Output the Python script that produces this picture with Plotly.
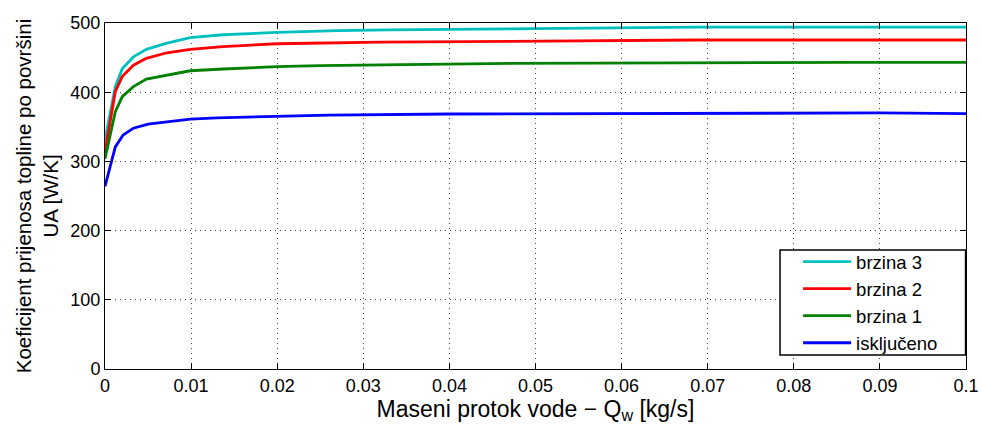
import plotly.graph_objects as go

# Data
x_b3 = [0, 0.0012, 0.002, 0.0033, 0.0048, 0.0072, 0.0099, 0.0137, 0.02, 0.027, 0.033, 0.045, 0.0687, 0.1]
y_b3 = [331, 408, 434, 451, 462, 471, 479, 483, 486.5, 489, 490, 491, 494, 494]

x_b2 = [0, 0.0012, 0.002, 0.0033, 0.0048, 0.0072, 0.0099, 0.0137, 0.02, 0.027, 0.032, 0.047, 0.0687, 0.1]
y_b2 = [314, 401, 422.5, 439, 449, 457, 462, 466, 470, 471.5, 472.5, 473.5, 475.4, 475.4]

x_b1 = [0, 0.0012, 0.002, 0.0033, 0.0048, 0.0072, 0.0099, 0.0137, 0.02, 0.025, 0.034, 0.047, 0.0865, 0.1]
y_b1 = [304, 372, 393.6, 408, 419, 425, 431, 433.5, 437, 438.5, 440, 441.6, 443, 443]

x_off = [0, 0.0012, 0.0021, 0.0033, 0.005, 0.0099, 0.013, 0.02, 0.026, 0.04, 0.0865, 0.09, 0.1]
y_off = [264, 321, 338, 348, 354, 361, 363, 365.6, 367, 368.5, 370.5, 370, 369]

series = [
    ("brzina 3", x_b3, y_b3, "#00BFBF"),
    ("brzina 2", x_b2, y_b2, "#FF0000"),
    ("brzina 1", x_b1, y_b1, "#008000"),
    ("isključeno", x_off, y_off, "#0000FF"),
]

x_ticks = [0, 0.01, 0.02, 0.03, 0.04, 0.05, 0.06, 0.07, 0.08, 0.09, 0.1]
x_labels = ["0", "0.01", "0.02", "0.03", "0.04", "0.05", "0.06", "0.07", "0.08", "0.09", "0.1"]
y_ticks = [0, 100, 200, 300, 400, 500]

fig = go.Figure()
for name, xs, ys, col in series:
    fig.add_trace(go.Scatter(x=xs, y=ys, mode="lines", name=name,
                             line=dict(color=col, width=2.8)))

# legend frame (MATLAB-style box with generous padding)
fig.add_shape(type="rect", xref="paper", yref="paper",
              x0=0.784, x1=0.9995, y0=0.0405, y1=0.344,
              line=dict(color="black", width=1.5), fillcolor="white",
              layer="above")

font_family = "Liberation Sans, Arial, sans-serif"
fig.update_layout(
    width=982, height=427,
    margin=dict(l=105, r=16, t=23, b=58, autoexpand=False),
    plot_bgcolor="white", paper_bgcolor="white",
    font=dict(family=font_family, size=18, color="black"),
    showlegend=True,
    legend=dict(x=0.805, y=0.192, xanchor="left", yanchor="middle",
                borderwidth=0, bgcolor="rgba(0,0,0,0)",
                font=dict(size=18.5, family=font_family, color="black"),
                tracegroupgap=0, itemwidth=48),
    xaxis=dict(range=[0, 0.1], tickvals=x_ticks, ticktext=x_labels,
               tickfont=dict(size=18), automargin=False,
               showline=True, linecolor="black", linewidth=1, mirror="ticks",
               ticks="inside", ticklen=6, tickcolor="black",
               showgrid=True, gridcolor="#404040", griddash="1px,4px", gridwidth=1,
               zeroline=False,
               title=dict(text="Maseni protok vode − Q<sub>w</sub> [kg/s]",
                          font=dict(size=23), standoff=2)),
    yaxis=dict(range=[0, 500], tickvals=y_ticks,
               tickfont=dict(size=18), automargin=False,
               showline=True, linecolor="black", linewidth=1, mirror="ticks",
               ticks="inside", ticklen=6, tickcolor="black",
               showgrid=True, gridcolor="#404040", griddash="1px,4px", gridwidth=1,
               zeroline=False,
               title=dict(text="Koeficijent prijenosa topline po površini<br>UA [W/K]",
                          font=dict(size=20.5), standoff=6)),
)

fig.write_html("out.html")
